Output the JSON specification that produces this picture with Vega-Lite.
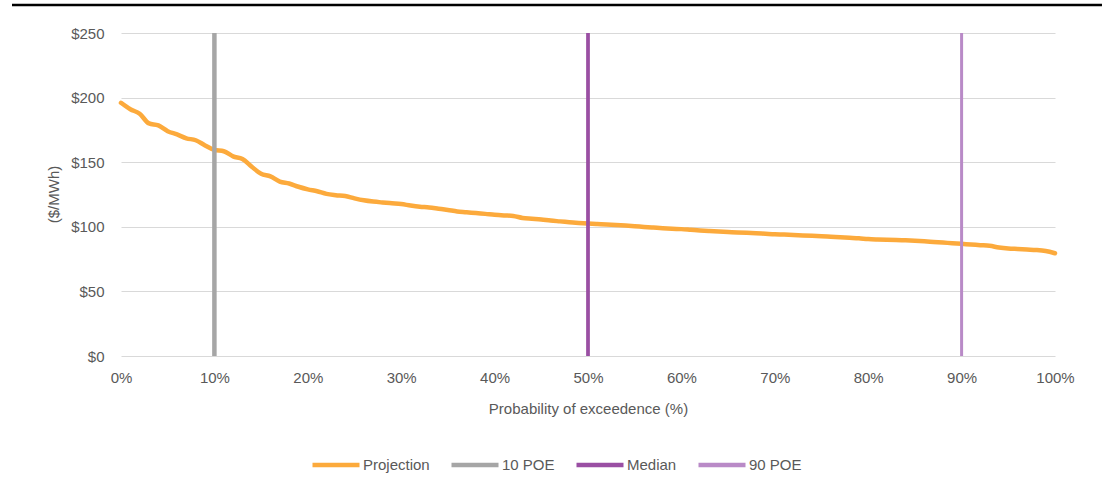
{
  "$schema": "https://vega.github.io/schema/vega-lite/v6.json",
  "autosize": "none",
  "width": 934,
  "height": 323,
  "padding": {"top": 33, "left": 121, "right": 61, "bottom": 124},
  "background": "white",
  "config": {
    "view": {"stroke": null},
    "font": "Liberation Sans",
    "axis": {
      "labelFont": "Liberation Sans",
      "labelFontSize": 15,
      "labelColor": "#595959",
      "titleFont": "Liberation Sans",
      "titleFontSize": 15,
      "titleFontWeight": "normal",
      "titleColor": "#595959",
      "gridColor": "#D9D9D9",
      "gridWidth": 1,
      "domain": false,
      "ticks": false,
      "labelFlush": false
    },
    "legend": {
      "labelFont": "Liberation Sans",
      "labelFontSize": 15,
      "labelColor": "#595959"
    }
  },
  "datasets": {
    "projection": [
      {"poe": 0, "price": 196, "series": "Projection"},
      {"poe": 1, "price": 191, "series": "Projection"},
      {"poe": 2, "price": 187.5, "series": "Projection"},
      {"poe": 3, "price": 180, "series": "Projection"},
      {"poe": 4, "price": 178.5, "series": "Projection"},
      {"poe": 5, "price": 174, "series": "Projection"},
      {"poe": 6, "price": 171.5, "series": "Projection"},
      {"poe": 7, "price": 168.5, "series": "Projection"},
      {"poe": 8, "price": 167, "series": "Projection"},
      {"poe": 9, "price": 163, "series": "Projection"},
      {"poe": 10, "price": 159.5, "series": "Projection"},
      {"poe": 11, "price": 158.5, "series": "Projection"},
      {"poe": 12, "price": 154.5, "series": "Projection"},
      {"poe": 13, "price": 152.5, "series": "Projection"},
      {"poe": 14, "price": 146.5, "series": "Projection"},
      {"poe": 15, "price": 141, "series": "Projection"},
      {"poe": 16, "price": 139, "series": "Projection"},
      {"poe": 17, "price": 135, "series": "Projection"},
      {"poe": 18, "price": 133.5, "series": "Projection"},
      {"poe": 19, "price": 131, "series": "Projection"},
      {"poe": 20, "price": 129, "series": "Projection"},
      {"poe": 21, "price": 127.5, "series": "Projection"},
      {"poe": 22, "price": 125.5, "series": "Projection"},
      {"poe": 23, "price": 124.5, "series": "Projection"},
      {"poe": 24, "price": 123.8, "series": "Projection"},
      {"poe": 25, "price": 122, "series": "Projection"},
      {"poe": 26, "price": 120.5, "series": "Projection"},
      {"poe": 27, "price": 119.5, "series": "Projection"},
      {"poe": 28, "price": 118.8, "series": "Projection"},
      {"poe": 29, "price": 118.2, "series": "Projection"},
      {"poe": 30, "price": 117.6, "series": "Projection"},
      {"poe": 31, "price": 116.5, "series": "Projection"},
      {"poe": 32, "price": 115.6, "series": "Projection"},
      {"poe": 33, "price": 115, "series": "Projection"},
      {"poe": 34, "price": 114, "series": "Projection"},
      {"poe": 35, "price": 113, "series": "Projection"},
      {"poe": 36, "price": 111.9, "series": "Projection"},
      {"poe": 37, "price": 111.3, "series": "Projection"},
      {"poe": 38, "price": 110.6, "series": "Projection"},
      {"poe": 39, "price": 110, "series": "Projection"},
      {"poe": 40, "price": 109.3, "series": "Projection"},
      {"poe": 41, "price": 108.8, "series": "Projection"},
      {"poe": 42, "price": 108.4, "series": "Projection"},
      {"poe": 43, "price": 106.8, "series": "Projection"},
      {"poe": 44, "price": 106.2, "series": "Projection"},
      {"poe": 45, "price": 105.6, "series": "Projection"},
      {"poe": 46, "price": 104.8, "series": "Projection"},
      {"poe": 47, "price": 104.2, "series": "Projection"},
      {"poe": 48, "price": 103.6, "series": "Projection"},
      {"poe": 49, "price": 103, "series": "Projection"},
      {"poe": 50, "price": 102.5, "series": "Projection"},
      {"poe": 51, "price": 102.1, "series": "Projection"},
      {"poe": 52, "price": 101.7, "series": "Projection"},
      {"poe": 53, "price": 101.4, "series": "Projection"},
      {"poe": 54, "price": 101, "series": "Projection"},
      {"poe": 55, "price": 100.5, "series": "Projection"},
      {"poe": 56, "price": 99.9, "series": "Projection"},
      {"poe": 57, "price": 99.4, "series": "Projection"},
      {"poe": 58, "price": 98.9, "series": "Projection"},
      {"poe": 59, "price": 98.5, "series": "Projection"},
      {"poe": 60, "price": 98.2, "series": "Projection"},
      {"poe": 61, "price": 97.7, "series": "Projection"},
      {"poe": 62, "price": 97.2, "series": "Projection"},
      {"poe": 63, "price": 96.8, "series": "Projection"},
      {"poe": 64, "price": 96.4, "series": "Projection"},
      {"poe": 65, "price": 96, "series": "Projection"},
      {"poe": 66, "price": 95.6, "series": "Projection"},
      {"poe": 67, "price": 95.3, "series": "Projection"},
      {"poe": 68, "price": 95, "series": "Projection"},
      {"poe": 69, "price": 94.6, "series": "Projection"},
      {"poe": 70, "price": 94.2, "series": "Projection"},
      {"poe": 71, "price": 94, "series": "Projection"},
      {"poe": 72, "price": 93.7, "series": "Projection"},
      {"poe": 73, "price": 93.3, "series": "Projection"},
      {"poe": 74, "price": 93, "series": "Projection"},
      {"poe": 75, "price": 92.7, "series": "Projection"},
      {"poe": 76, "price": 92.3, "series": "Projection"},
      {"poe": 77, "price": 91.9, "series": "Projection"},
      {"poe": 78, "price": 91.5, "series": "Projection"},
      {"poe": 79, "price": 91.1, "series": "Projection"},
      {"poe": 80, "price": 90.5, "series": "Projection"},
      {"poe": 81, "price": 90.2, "series": "Projection"},
      {"poe": 82, "price": 90, "series": "Projection"},
      {"poe": 83, "price": 89.8, "series": "Projection"},
      {"poe": 84, "price": 89.5, "series": "Projection"},
      {"poe": 85, "price": 89.2, "series": "Projection"},
      {"poe": 86, "price": 88.8, "series": "Projection"},
      {"poe": 87, "price": 88.3, "series": "Projection"},
      {"poe": 88, "price": 87.8, "series": "Projection"},
      {"poe": 89, "price": 87.3, "series": "Projection"},
      {"poe": 90, "price": 86.8, "series": "Projection"},
      {"poe": 91, "price": 86.3, "series": "Projection"},
      {"poe": 92, "price": 85.8, "series": "Projection"},
      {"poe": 93, "price": 85.3, "series": "Projection"},
      {"poe": 94, "price": 84, "series": "Projection"},
      {"poe": 95, "price": 83.2, "series": "Projection"},
      {"poe": 96, "price": 82.8, "series": "Projection"},
      {"poe": 97, "price": 82.4, "series": "Projection"},
      {"poe": 98, "price": 82, "series": "Projection"},
      {"poe": 99, "price": 81.2, "series": "Projection"},
      {"poe": 100, "price": 79.5, "series": "Projection"}
    ],
    "markers": [
      {"poe": 10, "series": "10 POE"},
      {"poe": 50, "series": "Median"},
      {"poe": 90, "series": "90 POE"}
    ]
  },
  "layer": [
    {
      "data": {"name": "projection"},
      "mark": {"type": "line", "strokeWidth": 4.5, "strokeCap": "round", "strokeJoin": "round", "interpolate": "monotone"},
      "encoding": {
        "x": {
          "field": "poe", "type": "quantitative",
          "scale": {"domain": [0, 100], "nice": false},
          "axis": {
            "values": [0, 10, 20, 30, 40, 50, 60, 70, 80, 90, 100],
            "labelExpr": "datum.value + '%'",
            "grid": false,
            "labelPadding": 14,
            "title": "Probability of exceedence (%)",
            "titleY": 52,
            "titleBaseline": "middle"
          }
        },
        "y": {
          "field": "price", "type": "quantitative",
          "scale": {"domain": [0, 250], "nice": false},
          "axis": {
            "values": [0, 50, 100, 150, 200, 250],
            "format": "$,.0f",
            "labelPadding": 17,
            "title": "($/MWh)",
            "titleAngle": -90,
            "titleX": -68,
            "titleY": 161,
            "titleAlign": "center",
            "titleBaseline": "middle"
          }
        },
        "color": {
          "field": "series", "type": "nominal",
          "scale": {
            "domain": ["Projection", "10 POE", "Median", "90 POE"],
            "range": ["#FCAA3C", "#A6A6A6", "#9A4FA3", "#B98AC7"]
          },
          "legend": {
            "title": null,
            "orient": "none",
            "direction": "horizontal",
            "legendX": 189,
            "legendY": 406,
            "symbolType": "stroke",
            "symbolSize": 2209,
            "symbolStrokeWidth": 4.5,
            "labelOffset": 1,
            "columnPadding": 12,
            "padding": 0
          }
        }
      }
    },
    {
      "data": {"name": "markers"},
      "mark": {"type": "rule"},
      "encoding": {
        "x": {"field": "poe", "type": "quantitative"},
        "color": {"field": "series", "type": "nominal"},
        "strokeWidth": {
          "field": "series", "type": "nominal",
          "scale": {"domain": ["10 POE", "Median", "90 POE"], "range": [4.5, 3, 4.5]},
          "legend": null
        }
      }
    },
    {
      "data": {"values": [{}]},
      "mark": {"type": "rule", "color": "#000000", "strokeWidth": 2.5, "clip": false},
      "encoding": {
        "x": {"datum": -11.67, "type": "quantitative"},
        "x2": {"datum": 105.03},
        "y": {"datum": 271.67, "type": "quantitative"}
      }
    }
  ]
}
